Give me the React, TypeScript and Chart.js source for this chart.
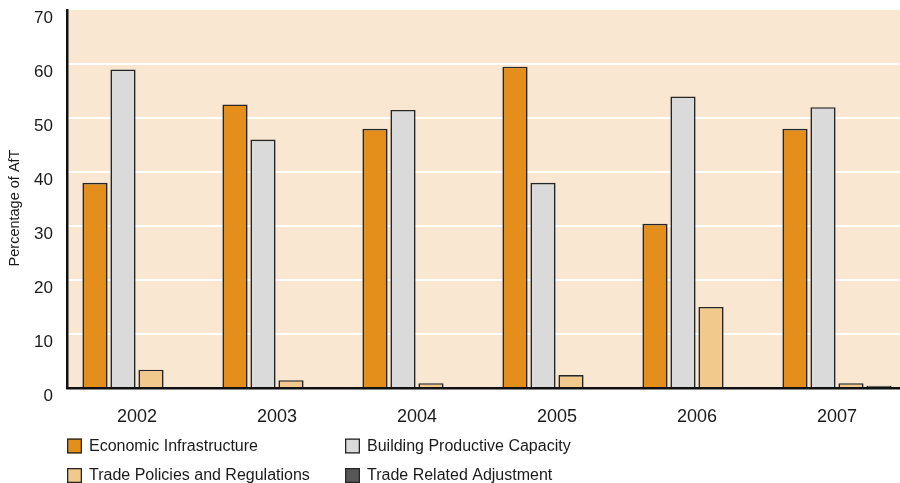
import React, { useEffect, useRef } from "react";
import { Chart, registerables } from "chart.js";

Chart.register(...registerables);

const years = ["2002", "2003", "2004", "2005", "2006", "2007"];
const economicInfrastructure = [38, 52.5, 48, 59.5, 30.4, 48];
const buildingProductiveCapacity = [59, 46, 51.5, 38, 54, 52];
const tradePolicies = [3.4, 1.45, 0.9, 2.4, 15, 0.9];
const tradeAdjustment = [0, 0, 0, 0, 0, 0.4];
const yTicks = [0, 10, 20, 30, 40, 50, 60, 70];
const yTitle = "Percentage of AfT";

const FONT = "'Liberation Sans', Arial, Helvetica, sans-serif";
const PLOT_BG = "#F9E7D1";
const EDGE = "#262626";

// Peach plot background behind the bars
const plotBackground = {
  id: "plotBackground",
  beforeDraw(chart: any) {
    const { ctx, chartArea } = chart;
    ctx.save();
    ctx.fillStyle = PLOT_BG;
    ctx.fillRect(chartArea.left, chartArea.top, chartArea.right - chartArea.left, chartArea.bottom - chartArea.top);
    ctx.restore();
  },
};

// Rotated y-axis caption
const axisCaption = {
  id: "axisCaption",
  afterDraw(chart: any) {
    const { ctx } = chart;
    ctx.save();
    ctx.translate(14.5, 208);
    ctx.rotate(-Math.PI / 2);
    ctx.font = `14.5px ${FONT}`;
    ctx.fillStyle = "#1a1a1a";
    ctx.textAlign = "center";
    ctx.textBaseline = "middle";
    ctx.fillText(yTitle, 0, 0);
    ctx.restore();
  },
};

// Two-column legend under the axis
const gridLegend = {
  id: "gridLegend",
  afterDraw(chart: any) {
    const { ctx } = chart;
    const cols = [67, 345];
    const rows = [446, 475.5];
    const box = 15;
    ctx.save();
    ctx.font = `16px ${FONT}`;
    ctx.textBaseline = "middle";
    chart.data.datasets.forEach((ds: any, i: number) => {
      const x = cols[i % 2];
      const y = rows[Math.floor(i / 2)];
      ctx.fillStyle = ds.backgroundColor;
      ctx.fillRect(x, y - box / 2, box, box);
      ctx.strokeStyle = EDGE;
      ctx.lineWidth = 1.3;
      ctx.strokeRect(x + 0.65, y - box / 2 + 0.65, box - 1.3, box - 1.3);
      ctx.fillStyle = "#1a1a1a";
      ctx.fillText(ds.label, x + 22, y + 0.5);
    });
    ctx.restore();
  },
};

export default function App() {
  const canvasRef = useRef<HTMLCanvasElement | null>(null);

  useEffect(() => {
    document.body.style.margin = "0";
    const canvas = canvasRef.current;
    if (!canvas) return;
    const bar = (label: string, data: number[], color: string) => ({
      label,
      data,
      backgroundColor: color,
      borderColor: EDGE,
      borderWidth: 1.6,
      categoryPercentage: 0.8,
      barPercentage: 0.9,
    });
    const chart = new Chart(canvas, {
      type: "bar",
      data: {
        labels: years,
        datasets: [
          bar("Economic Infrastructure", economicInfrastructure, "#E48E1B"),
          bar("Building Productive Capacity", buildingProductiveCapacity, "#D9DAD9"),
          bar("Trade Policies and Regulations", tradePolicies, "#F2C98D"),
          bar("Trade Related Adjustment", tradeAdjustment, "#575757"),
        ],
      },
      options: {
        responsive: false,
        animation: false,
        devicePixelRatio: 1,
        layout: { padding: { top: 10, right: 13, bottom: 0, left: 0 } },
        plugins: {
          legend: { display: false },
          tooltip: { enabled: false },
        },
        scales: {
          x: {
            grid: { display: false, drawTicks: false },
            border: { color: "#111", width: 2.5, z: 2 },
            ticks: {
              color: "#1a1a1a",
              font: { family: FONT, size: 18 },
              padding: 18,
            },
            afterFit(scale: any) {
              scale.height = 95;
              scale.paddingLeft = 0;
              scale.paddingRight = 0;
            },
          },
          y: {
            min: 0,
            max: 70,
            afterBuildTicks(scale: any) {
              scale.ticks = yTicks.map((v) => ({ value: v }));
            },
            grid: {
              drawTicks: false,
              lineWidth: 2,
              color: (c: any) =>
                c.tick && (c.tick.value === 0 || c.tick.value === 70) ? "rgba(0,0,0,0)" : "#ffffff",
            },
            border: { color: "#111", width: 2.5, z: 2 },
            ticks: {
              color: "#1a1a1a",
              font: { family: FONT, size: 17 },
              padding: 14,
              labelOffset: 8,
            },
            afterFit(scale: any) {
              scale.width = 67;
              scale.paddingTop = 0;
              scale.paddingBottom = 0;
            },
          },
        },
      },
      plugins: [plotBackground, axisCaption, gridLegend],
    });
    return () => chart.destroy();
  }, []);

  return (
    <div
      style={{
        position: "fixed",
        left: 0,
        top: 0,
        width: 900,
        height: 483,
        overflow: "hidden",
        background: "#fff",
      }}
    >
      <canvas ref={canvasRef} width={920} height={483} style={{ width: 920, height: 483, display: "block" }} />
    </div>
  );
}
